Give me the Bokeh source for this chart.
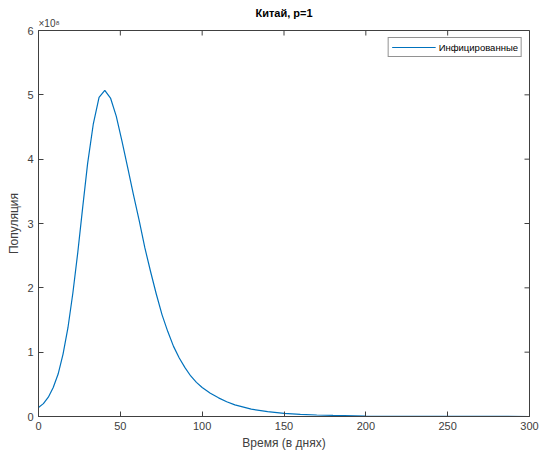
import math
from bokeh.plotting import figure
from bokeh.models import Range1d, Label, FixedTicker
from bokeh.embed import file_html
from bokeh.resources import INLINE

# Time in days
days = [0, 3, 6, 9, 12, 15, 18, 21, 24, 27, 30, 33.5, 37, 40.5, 44, 47.5, 51,
        54.5, 58, 61.5, 65, 68.5, 72, 75.5, 79, 82.5, 86, 89.5, 93, 96.5, 100,
        105, 110, 115, 120, 130, 140, 150, 160, 170, 180, 200, 220, 250, 300]
# Infected population, in units of 10^8
infected = [0.14, 0.20, 0.30, 0.45, 0.66, 0.97, 1.38, 1.92, 2.55, 3.25, 3.93,
            4.55, 4.96, 5.07, 4.95, 4.67, 4.28, 3.87, 3.45, 3.05, 2.62, 2.25,
            1.90, 1.58, 1.32, 1.09, 0.91, 0.76, 0.63, 0.53, 0.45, 0.36, 0.29,
            0.23, 0.18, 0.115, 0.075, 0.05, 0.034, 0.023, 0.016, 0.008, 0.004,
            0.0015, 0.0003]
x_ticks = [0, 50, 100, 150, 200, 250, 300]
y_ticks = [0, 1, 2, 3, 4, 5, 6]
x_min, x_max = 0, 300
y_min, y_max = 0, 6

FONT = "Liberation Sans"
AX = "#404040"

p = figure(width=540, height=452, output_backend="svg", toolbar_location=None,
           x_range=Range1d(x_min, x_max), y_range=Range1d(y_min, y_max),
           min_border_left=38, min_border_right=11, min_border_top=30,
           min_border_bottom=36, background_fill_color="white",
           border_fill_color="white")
p.grid.visible = False
p.outline_line_color = AX
p.outline_line_width = 1

p.title.text = "Китай, p=1"
p.title.align = "center"
p.title.text_font = FONT
p.title.text_font_size = "11px"
p.title.text_font_style = "bold"
p.title.text_color = "black"
p.title.standoff = 2

p.line(days, infected, color="#0072BD", line_width=1.2, legend_label="Инфицированные")

# inward ticks on the top and right edges (dash markers clipped by the frame)
p.scatter(x_ticks, [y_max] * len(x_ticks), marker="dash", size=10,
          angle=math.pi / 2, line_color=AX, line_width=1)
p.scatter([x_max] * len(y_ticks), y_ticks, marker="dash", size=10,
          line_color=AX, line_width=1)

p.xaxis.ticker = FixedTicker(ticks=x_ticks)
p.yaxis.ticker = FixedTicker(ticks=y_ticks)

for ax in list(p.xaxis) + list(p.yaxis):
    ax.axis_line_color = AX
    ax.axis_line_width = 1
    ax.major_tick_line_color = AX
    ax.major_tick_in = 5
    ax.major_tick_out = 0
    ax.minor_tick_line_color = None
    ax.major_label_text_font = FONT
    ax.major_label_text_font_size = "11px"
    ax.major_label_text_color = AX
    ax.major_label_standoff = 5
    ax.axis_label_text_font = FONT
    ax.axis_label_text_font_size = "12px"
    ax.axis_label_text_font_style = "normal"
    ax.axis_label_text_color = AX

p.xaxis.axis_label = "Время (в днях)"
p.xaxis.axis_label_standoff = 3
p.yaxis.axis_label = "Популяция"
p.yaxis.axis_label_standoff = 3

p.add_layout(Label(x=x_min, y=y_max, text="×10⁸", y_offset=2, text_font=FONT,
                   text_font_size="10px", text_color=AX), "above")

lg = p.legend[0]
lg.location = "top_right"
lg.margin = 7
lg.padding = 3
lg.spacing = 0
lg.label_text_font = FONT
lg.label_text_font_size = "9.5px"
lg.label_text_color = "black"
lg.label_height = 12
lg.glyph_height = 12
lg.glyph_width = 44
lg.label_standoff = 3
lg.border_line_color = "#262626"
lg.border_line_width = 1
lg.background_fill_color = "white"

open("out.html", "w").write(file_html(p, INLINE))
